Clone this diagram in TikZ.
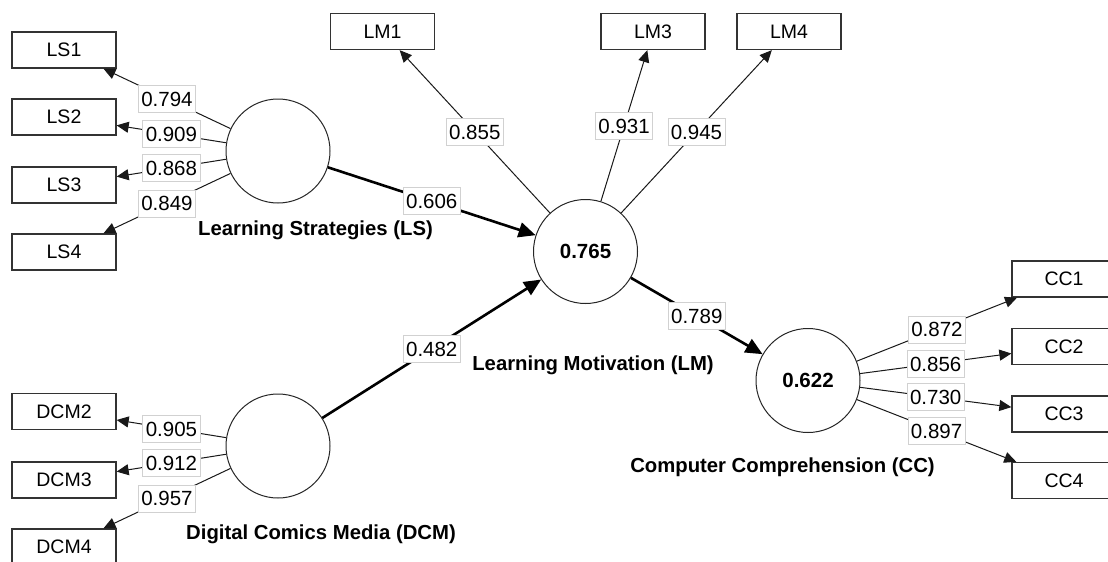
\documentclass[tikz,border=0pt]{standalone}
\usepackage{fontspec}
\setmainfont{Liberation Sans}
\usetikzlibrary{arrows.meta}
\tikzset{
  ind/.style={draw=black!90, line width=1pt, -{Triangle[length=12pt,width=11pt]}},
  spath/.style={draw=black, line width=2.6pt, -{Triangle[length=17pt,width=15pt]}},
  mbox/.style={draw=black!80, line width=1.3pt, rectangle, minimum width=104pt, minimum height=36pt, inner sep=0pt, fill=white, font=\fontsize{19.5}{22}\selectfont},
  lat/.style={draw=black!85, line width=1pt, circle, minimum size=104pt, inner sep=0pt, fill=white, font=\bfseries\fontsize{20.5}{23}\selectfont},
  lbl/.style={fill=white, draw=black!18, line width=0.6pt, inner xsep=3pt, inner ysep=0pt, text height=15pt, text depth=0pt, minimum height=27pt, font=\fontsize{20.5}{23}\selectfont, pos=0.5},
  latname/.style={anchor=base, font=\bfseries\fontsize{20.3}{23}\selectfont}
}
\begin{document}
\begin{tikzpicture}[x=1pt,y=-1pt]
\useasboundingbox (0,0) rectangle (1108,562);
\clip (0,0) rectangle (1108,562);
\fill[white] (0,0) rectangle (1108,562);
% indicator boxes
\node[mbox] (LS1) at (64,50) {LS1};
\node[mbox] (LS2) at (64,117) {LS2};
\node[mbox] (LS3) at (64,185) {LS3};
\node[mbox] (LS4) at (64,252) {LS4};
\node[mbox] (DCM2) at (64,411.5) {DCM2};
\node[mbox] (DCM3) at (64,480) {DCM3};
\node[mbox] (DCM4) at (64,547) {DCM4};
\node[mbox] (LM1) at (382.5,31.5) {LM1};
\node[mbox] (LM3) at (653,31.5) {LM3};
\node[mbox] (LM4) at (789,31.5) {LM4};
\node[mbox] (CC1) at (1064,279) {CC1};
\node[mbox] (CC2) at (1064,346.5) {CC2};
\node[mbox] (CC3) at (1064,414) {CC3};
\node[mbox] (CC4) at (1064,480.5) {CC4};
% latent variables
\node[lat] (LS) at (278,151) {};
\node[lat] (DCM) at (278,446) {};
\node[lat] (LM) at (585.5,251.5) {0.765};
\node[lat] (CC) at (808,380.5) {0.622};
% names
\node[latname] (nLS) at (315.5,235.7) {Learning Strategies (LS)};
\node[latname] (nDCM) at (321,539) {Digital Comics Media (DCM)};
\node[latname] (nLM) at (593,370) {Learning Motivation (LM)};
\node[latname] (nCC) at (782.5,472.7) {Computer Comprehension (CC)};
% outer loadings
\draw[ind] (LS) -- node[lbl]{0.794} (LS1);
\draw[ind] (LS) -- node[lbl]{0.909} (LS2);
\draw[ind] (LS) -- node[lbl]{0.868} (LS3);
\draw[ind] (LS) -- node[lbl]{0.849} (LS4);
\draw[ind] (DCM) -- node[lbl]{0.905} (DCM2);
\draw[ind] (DCM) -- node[lbl]{0.912} (DCM3);
\draw[ind] (DCM) -- node[lbl]{0.957} (DCM4);
\draw[ind] (LM) -- node[lbl]{0.855} (LM1);
\draw[ind] (LM) -- node[lbl]{0.931} (LM3);
\draw[ind] (LM) -- node[lbl]{0.945} (LM4);
\draw[ind] (CC) -- node[lbl]{0.872} (CC1);
\draw[ind] (CC) -- node[lbl]{0.856} (CC2);
\draw[ind] (CC) -- node[lbl]{0.730} (CC3);
\draw[ind] (CC) -- node[lbl]{0.897} (CC4);
% structural paths
\draw[spath] (LS) -- node[lbl]{0.606} (LM);
\draw[spath] (DCM) -- node[lbl]{0.482} (LM);
\draw[spath] (LM) -- node[lbl]{0.789} (CC);
\end{tikzpicture}
\end{document}
